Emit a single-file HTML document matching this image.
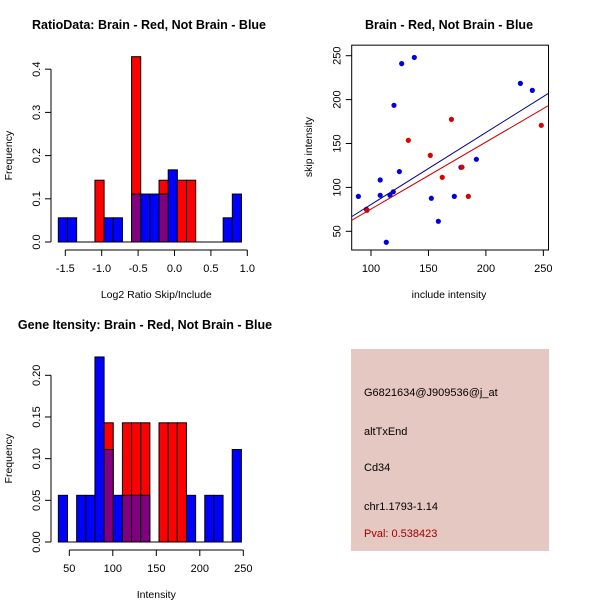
<!DOCTYPE html>
<html><head><meta charset="utf-8"><style>
html,body{margin:0;padding:0;background:#fff;}
svg{display:block;font-family:"Liberation Sans",Arial,sans-serif;}
</style></head><body>
<svg id="chart" width="600" height="600" viewBox="0 0 600 600" xmlns="http://www.w3.org/2000/svg">
<rect x="0" y="0" width="600" height="600" fill="#fff"/>
<text x="149" y="29" text-anchor="middle" font-size="12.5" font-weight="bold">RatioData: Brain - Red, Not Brain - Blue</text>
<text x="449" y="29" text-anchor="middle" font-size="12.5" font-weight="bold">Brain - Red, Not Brain - Blue</text>
<text x="145" y="329" text-anchor="middle" font-size="12.5" font-weight="bold">Gene Itensity: Brain - Red, Not Brain - Blue</text>
<g id="p1"></g>
<g id="p2"></g>
<g id="p3"></g>
<g>
<rect x="351" y="349" width="198" height="202" fill="#e6c8c2"/>
<text x="364" y="396" font-size="11">G6821634@J909536@j_at</text>
<text x="364" y="435" font-size="11">altTxEnd</text>
<text x="364" y="471" font-size="11">Cd34</text>
<text x="364" y="510" font-size="11">chr1.1793-1.14</text>
<text x="364" y="537" font-size="11" fill="#a00000">Pval: 0.538423</text>
</g>
</svg>
<script>
// ---- Panel 1 data (ratio histogram, 20 bins starting at -1.596, width 0.126)
const ratioBlue = [0.056,0.056,0,0,0,0.056,0.056,0,0.111,0.111,0.111,0.111,0.167,0,0,0,0,0,0.056,0.111];
const ratioRed  = [0,0,0,0,0.143,0,0,0,0.429,0,0,0.143,0,0.143,0.143,0,0,0,0,0];
const ratioXTicks = [-1.5,-1.0,-0.5,0.0,0.5,1.0];
const ratioXLabels = ["-1.5","-1.0","-0.5","0.0","0.5","1.0"];
const ratioYTicks = [0,0.1,0.2,0.3,0.4];
const ratioYLabels = ["0.0","0.1","0.2","0.3","0.4"];
// ---- Panel 3 data (intensity histogram, 20 bins starting at 37.4, width 10.52)
const intBlue = [0.056,0,0.056,0.056,0.222,0.111,0.056,0.056,0.056,0.056,0,0,0,0,0.056,0,0.056,0.056,0,0.111];
const intRed  = [0,0,0,0,0,0.143,0,0.143,0.143,0.143,0,0.143,0.143,0.143,0,0,0,0,0,0];
const intXTicks = [50,100,150,200,250];
const intXLabels = ["50","100","150","200","250"];
const intYTicks = [0,0.05,0.10,0.15,0.20];
const intYLabels = ["0.00","0.05","0.10","0.15","0.20"];
// ---- Panel 2 data (scatter)
const blueX = [89,96,108,108,116.5,119.4,120,124.7,126.7,137.7,113.3,152.5,158.6,172.5,178.3,191.7,230,240.4];
const blueY = [89.8,75,108.4,91,91,95,193.5,118,241,248,37.5,87.6,61.4,89.8,122.9,132,218.5,210.5];
const redX = [96.5,132.5,151.6,162,170,179.2,184.7,248.2];
const redY = [74,153.6,136.5,111.5,177.5,123,89.8,170.7];
const blueFit = [-1.5,0.82];  // intercept, slope
const redFit = [-1.0,0.763];
const scXTicks = [100,150,200,250];
const scYTicks = [50,100,150,200,250];

const NS="http://www.w3.org/2000/svg";
function mk(parent,tag,attrs,text){const e=document.createElementNS(NS,tag);for(const k in attrs)e.setAttribute(k,attrs[k]);if(text!==undefined)e.textContent=text;parent.appendChild(e);return e;}

function hist(g,blue,red,x0,bw,sx,sy,xTicks,xLabels,yTicks,yLabels,xTitle,axisY,axisX){
  const n=blue.length;
  for(let i=0;i<n;i++){
    const l=sx(x0+i*bw), r=sx(x0+(i+1)*bw);
    if(red[i]>0){const e=mk(g,'rect',{x:l,y:sy(red[i]),width:r-l,height:sy(0)-sy(red[i]),fill:'#ff0000',stroke:'#000','stroke-width':1});
      
      }
    if(blue[i]>0){
      const ov=red[i]>0;
      const top=blue[i];
      const e=mk(g,'rect',{x:l,y:sy(top),width:r-l,height:sy(0)-sy(top),fill:ov?'#800080':'#0000ff',stroke:'#000','stroke-width':1});
      
      
      if(ov&&red[i]>blue[i]){} 
    }
  }
  // baseline
  const b=mk(g,'line',{x1:sx(x0),x2:sx(x0+n*bw),y1:sy(0),y2:sy(0),stroke:'#000','stroke-width':1});
  
  
  // x axis
  const xa=mk(g,'line',{x1:sx(xTicks[0]),x2:sx(xTicks[xTicks.length-1]),y1:axisY,y2:axisY,stroke:'#000'});
  
  
  xTicks.forEach((t,i)=>{mk(g,'line',{x1:sx(t),x2:sx(t),y1:axisY,y2:axisY+6,stroke:'#000'});
    const tx=mk(g,'text',{x:sx(t),y:axisY+22,'text-anchor':'middle','font-size':11},xLabels[i]);
    
    });
  const ya=mk(g,'line',{x1:axisX,x2:axisX,y1:sy(yTicks[0]),y2:sy(yTicks[yTicks.length-1]),stroke:'#000'});
  
  
  yTicks.forEach((t,i)=>{mk(g,'line',{x1:axisX-6,x2:axisX,y1:sy(t),y2:sy(t),stroke:'#000'});
    const tx=mk(g,'text',{x:axisX-11,y:sy(t),'text-anchor':'middle','font-size':11,transform:`rotate(-90 ${axisX-11} ${sy(t)})`},yLabels[i]);
    
    });
  const xt=mk(g,'text',{x:(sx(xTicks[0])+sx(xTicks[xTicks.length-1]))/2,y:axisY+48,'text-anchor':'middle','font-size':10.5},xTitle);
  
  
  const cy=(sy(yTicks[0])+sy(yTicks[yTicks.length-1]))/2;
  const yt=mk(g,'text',{x:12,y:cy,'text-anchor':'middle','font-size':10.5,transform:`rotate(-90 12 ${cy})`},'Frequency');
  
  
}

// Panel 1
hist(document.getElementById('p1'),ratioBlue,ratioRed,-1.596,0.1258,
  v=>174.5+v*72.8, v=>242-v*432, ratioXTicks,ratioXLabels,ratioYTicks,ratioYLabels,'Log2 Ratio Skip/Include',250,51);
// Panel 3
hist(document.getElementById('p3'),intBlue,intRed,37.4,10.52,
  v=>69.3+(v-50)*0.87, v=>542-v*833.5, intXTicks,intXLabels,intYTicks,intYLabels,'Intensity',550,51);

// Panel 2
(function(){
  const g=document.getElementById('p2');
  const sx=v=>371+(v-100)*1.149, sy=v=>231.3-(v-50)*0.878;
  const xmin=83.2,xmax=254.5,ymin=28.7,ymax=262;
  const box=mk(g,'rect',{x:sx(xmin),y:sy(ymax),width:sx(xmax)-sx(xmin),height:sy(ymin)-sy(ymax),fill:'none',stroke:'#000'});
  
  
  blueX.forEach((x,i)=>{const c=mk(g,'circle',{cx:sx(x),cy:sy(blueY[i]),r:2.6,fill:'#0000dd'});
    
    });
  redX.forEach((x,i)=>{const c=mk(g,'circle',{cx:sx(x),cy:sy(redY[i]),r:2.6,fill:'#dd0000'});
    
    });
  const fl=(f,col,name)=>{const l=mk(g,'line',{x1:sx(xmin),y1:sy(f[0]+f[1]*xmin),x2:sx(xmax),y2:sy(f[0]+f[1]*xmax),stroke:col,'stroke-width':1});
    
    };
  fl(blueFit,'#000099','blue-fit-line');
  fl(redFit,'#cc0000','red-fit-line');
  const by=sy(ymin);
  scXTicks.forEach(t=>{mk(g,'line',{x1:sx(t),x2:sx(t),y1:by,y2:by+6,stroke:'#000'});
    const tx=mk(g,'text',{x:sx(t),y:by+22,'text-anchor':'middle','font-size':11},String(t));
    
    });
  const lx=sx(xmin);
  scYTicks.forEach(t=>{mk(g,'line',{x1:lx-6,x2:lx,y1:sy(t),y2:sy(t),stroke:'#000'});
    const tx=mk(g,'text',{x:lx-11,y:sy(t),'text-anchor':'middle','font-size':11,transform:`rotate(-90 ${lx-11} ${sy(t)})`},String(t));
    
    });
  const xt=mk(g,'text',{x:449,y:298,'text-anchor':'middle','font-size':10.5},'include intensity');
  
  
  const yt=mk(g,'text',{x:312,y:147,'text-anchor':'middle','font-size':10.5,transform:'rotate(-90 312 147)'},'skip intensity');
  
  
})();
</script>
</body></html>
